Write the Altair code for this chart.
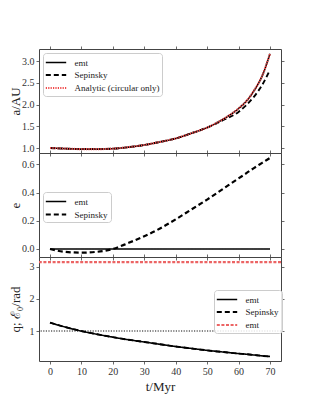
import altair as alt
import pandas as pd

# ---------------- data ----------------
t = [0, 5, 10, 15, 20, 25, 30, 35, 40, 45, 50, 55, 60, 62.5, 65, 67.5, 70]

a_emt = [1.00, 0.985, 0.975, 0.975, 0.985, 1.02, 1.07, 1.14, 1.22, 1.34, 1.47, 1.66, 1.91, 2.08, 2.33, 2.66, 3.17]
a_sep = [1.00, 0.985, 0.975, 0.975, 0.985, 1.02, 1.07, 1.14, 1.22, 1.34, 1.47, 1.64, 1.83, 1.99, 2.19, 2.45, 2.80]
a_analytic = [1.00, 0.985, 0.975, 0.975, 0.985, 1.02, 1.07, 1.14, 1.22, 1.34, 1.47, 1.66, 1.91, 2.08, 2.33, 2.66, 3.17]

e_emt = [0.0, 0.0, 0.0, 0.0, 0.0, 0.0, 0.0, 0.0, 0.0, 0.0, 0.0, 0.0, 0.0, 0.0, 0.0, 0.0, 0.0]
e_sep = [0.0, -0.021, -0.026, -0.02, 0.0, 0.043, 0.09, 0.145, 0.21, 0.28, 0.35, 0.425, 0.50, 0.537, 0.575, 0.61, 0.645]

q_emt = [1.26, 1.12, 1.0, 0.90, 0.81, 0.73, 0.66, 0.59, 0.52, 0.46, 0.40, 0.35, 0.30, 0.28, 0.255, 0.23, 0.21]
q_sep = [1.26, 1.12, 1.0, 0.90, 0.81, 0.73, 0.66, 0.59, 0.52, 0.46, 0.40, 0.35, 0.30, 0.28, 0.255, 0.23, 0.21]
E0_emt = [3.14159]
q_ref = [1.0]

a_series = ["emt", "Sepinsky", "Analytic (circular only)"]
e_series = ["emt", "Sepinsky"]
q_series = ["emt", "Sepinsky", "E0 emt"]

x_ticks = [0, 10, 20, 30, 40, 50, 60, 70]
a_ticks = [1.0, 1.5, 2.0, 2.5, 3.0]
e_ticks = [0.0, 0.2, 0.4, 0.6]
q_ticks = [1, 2, 3]

# ---------------- styling ----------------
FONT = "Liberation Serif"
W, H = 242, 104
XDOM = [-3.5, 73.5]
FRAME = "#444444"

STYLE = {
    "emt": ("black", [1, 0], 1.6),
    "Sepinsky": ("black", [5, 3], 2.2),
    "Analytic (circular only)": ("#f04a4a", [1.2, 1.2], 1.2),
    "E0 emt": ("#ec6464", [3, 1.6], 0.9),
}

LEG_STYLE = dict(
    labelFont=FONT, labelFontSize=9, labelColor="#222222",
    symbolType="M-1.7,0H1.7", symbolSize=144, fillColor="rgba(255,255,255,0.85)",
    strokeColor="#cccccc", cornerRadius=3, padding=2.5, rowPadding=0.5,
    labelOffset=11, symbolOffset=3,
)


def enc_scales(series):
    cols = [STYLE[s][0] for s in series]
    dashes = [STYLE[s][1] for s in series]
    widths = [STYLE[s][2] for s in series]
    return (alt.Scale(domain=series, range=cols),
            alt.Scale(domain=series, range=dashes),
            alt.Scale(domain=series, range=widths))


def make_panel(series, values, ydom, yticks, yfmt, ytitle, legend_xy,
               show_x, rules=None, ref=None, label_expr=None):
    cs, ds, ws = enc_scales(series)
    xs = alt.Scale(domain=XDOM, nice=False, zero=False)
    ys = alt.Scale(domain=ydom, nice=False, zero=False)
    leg_kwargs = dict(orient="none", legendX=legend_xy[0], legendY=legend_xy[1], title=None,
                      **LEG_STYLE)
    if label_expr:
        leg_kwargs["labelExpr"] = label_expr
    legend = alt.Legend(**leg_kwargs)

    x_axis = alt.Axis(values=x_ticks, labels=show_x, title="t/Myr" if show_x else None,
                      orient="bottom", format="d")
    y_axis = alt.Axis(values=yticks, format=yfmt, title=ytitle, orient="left",
                      titleX=-17, titleY=H / 2, titleAngle=270, titleBaseline="bottom",
                      titleAlign="center")

    layers = []
    first = True
    if ref is not None:
        rdf = pd.DataFrame({"v": ref})
        layers.append(alt.Chart(rdf).mark_rule(color="#111111", strokeWidth=1.1,
                                               strokeDash=[1.2, 1.4]).encode(
            y=alt.Y("v:Q", scale=ys, axis=None)))
    for name, ys_vals in values:
        df = pd.DataFrame({"t": t, "v": ys_vals, "series": name})
        layers.append(alt.Chart(df).mark_line(interpolate="monotone").encode(
            x=alt.X("t:Q", scale=xs, axis=x_axis if first else None),
            y=alt.Y("v:Q", scale=ys, axis=y_axis if first else None),
            color=alt.Color("series:N", scale=cs, legend=legend),
            strokeDash=alt.StrokeDash("series:N", scale=ds, legend=legend),
            strokeWidth=alt.StrokeWidth("series:N", scale=ws, legend=legend),
        ))
        first = False
    if rules is not None:
        for name, vals in rules:
            rdf = pd.DataFrame({"v": vals, "series": name})
            layers.append(alt.Chart(rdf).mark_rule().encode(
                y=alt.Y("v:Q", scale=ys, axis=None),
                color=alt.Color("series:N", scale=cs, legend=legend),
                strokeDash=alt.StrokeDash("series:N", scale=ds, legend=legend),
                strokeWidth=alt.StrokeWidth("series:N", scale=ws, legend=legend),
            ))
    # mirrored ticks on top and right
    fdf = pd.DataFrame({"t": t, "v": values[0][1]})
    layers.append(alt.Chart(fdf).mark_line(opacity=0).encode(
        x=alt.X("t:Q", scale=xs, axis=alt.Axis(values=x_ticks, labels=False, title=None, orient="top")),
        y=alt.Y("v:Q", scale=ys, axis=alt.Axis(values=yticks, labels=False, title=None, orient="right")),
    ))
    return alt.layer(*layers).resolve_axis(x="independent", y="independent").properties(width=W, height=H)


top = make_panel(a_series,
                 [("emt", a_emt), ("Sepinsky", a_sep), ("Analytic (circular only)", a_analytic)],
                 [0.885, 3.28], a_ticks, ".1f", "a/AU", (4, 4), False)
mid = make_panel(e_series,
                 [("emt", e_emt), ("Sepinsky", e_sep)],
                 [-0.057, 0.68], e_ticks, ".1f", "e", (4, 39), False)
bot = make_panel(q_series,
                 [("Sepinsky", q_sep), ("emt", q_emt)],
                 [0.07, 3.30], q_ticks, "d", "q; ℰ₀/rad", (W - 67, 33), True,
                 rules=[("E0 emt", E0_emt)], ref=q_ref,
                 label_expr="datum.label == 'E0 emt' ? 'emt' : datum.label")

chart = alt.vconcat(top, mid, bot, spacing=0, bounds="flush").resolve_scale(
    color="independent", strokeDash="independent", strokeWidth="independent"
).resolve_legend(
    color="independent", strokeDash="independent", strokeWidth="independent"
).properties(
    padding={"left": 0, "top": 37, "right": 0, "bottom": 0}
).configure(
    font=FONT
).configure_view(
    stroke=FRAME, strokeWidth=1
).configure_axis(
    labelFont=FONT, titleFont=FONT, labelFontSize=10, titleFontSize=13,
    labelColor="#333333", titleColor="#222222", titleFontWeight="normal",
    domain=False, grid=False, tickColor=FRAME, tickSize=3, tickWidth=0.8,
    labelPadding=2
).configure_legend(**LEG_STYLE)

chart.save("out.html", embed_options={"renderer": "svg", "actions": False})
